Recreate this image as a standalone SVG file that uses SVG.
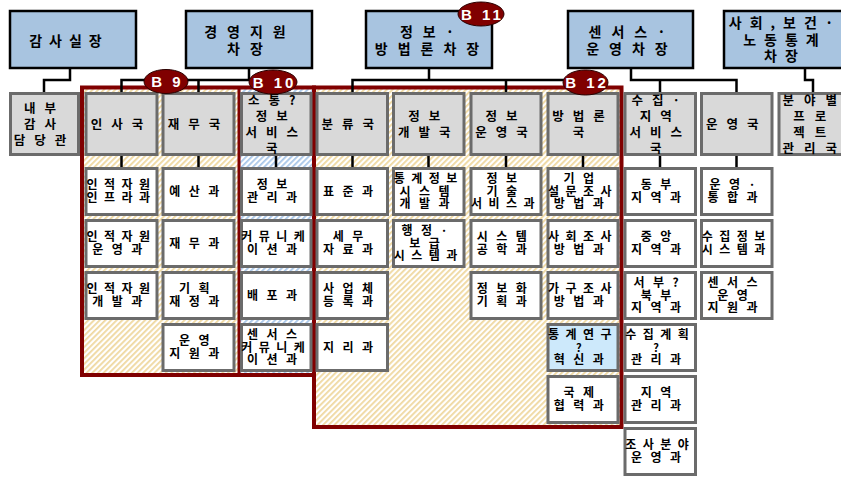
<svg xmlns="http://www.w3.org/2000/svg" width="841" height="478" viewBox="0 0 841 478">
<defs>
<pattern id="tan" width="4" height="4" patternUnits="userSpaceOnUse" patternTransform="rotate(45)">
<rect width="4" height="4" fill="#ffffff"/><rect width="1.8" height="4" fill="#efd8a0"/>
</pattern>
<pattern id="blu" width="4" height="4" patternUnits="userSpaceOnUse" patternTransform="rotate(45)">
<rect width="4" height="4" fill="#ffffff"/><rect width="1.8" height="4" fill="#a9c7e9"/>
</pattern>
<style>
.top{fill:#a8c4e0;stroke:#000;stroke-width:2.5}
.g{fill:#d9d9d9;stroke:#6b6b6b;stroke-width:3}
.w{fill:#ffffff;stroke:#6b6b6b;stroke-width:3}
.lb{fill:#cde9fb}
.t{font-family:"Noto Sans CJK KR","Noto Sans",sans-serif;font-weight:bold;text-anchor:middle;fill:#000}
.tt{font-size:14px;letter-spacing:9px}
.gt{font-size:12.5px;letter-spacing:9px}
.gp{font-size:12.5px}
.wt{font-size:12px;letter-spacing:8.5px}
.n4{letter-spacing:6.5px}
.frame{fill:none;stroke:#800000;stroke-width:4}
.div{stroke:#800000;stroke-width:3}
.conn path{fill:none;stroke:#000;stroke-width:2.5}
.badge ellipse{fill:#800000;stroke:#2a0000;stroke-width:1}
.badge text{font-family:"Liberation Sans",Arial,sans-serif;font-weight:bold;font-size:15px;fill:#fff;text-anchor:middle;letter-spacing:3px}
</style>
</defs>
<rect width="841" height="478" fill="#ffffff"/>

<g id="hatch">
<rect x="82" y="87.5" width="157" height="287.5" fill="url(#tan)"/>
<rect x="239" y="87.5" width="75" height="287.5" fill="url(#blu)"/>
<rect x="314" y="87.5" width="307.5" height="339.5" fill="url(#tan)"/>
</g>
<g id="frames">
<line class="div" x1="239" y1="87.5" x2="239" y2="375"/>
<rect class="frame" x="82" y="87.5" width="232" height="287.5"/>
<rect class="frame" x="314" y="87.5" width="307.5" height="339.5"/>
</g>

<g id="connectors" class="conn">
<path d="M70,68 V80 H44 V92"/>
<path d="M249,68 V80 M121.5,92 V80 H276 V92 M198.5,80 V92"/>
<path d="M429,68 V80 M352.5,92 V80 H583 V92 M506,80 V92"/>
<path d="M631,68 V80 H736.5 V92 M660,80 V92"/>
<path d="M805,68 V80 H813 V92"/>
<path d="M121.5,156 V167 M198.5,156 V167 M276,156 V167 M352.5,156 V167 M428.5,156 V167 M506,156 V167 M583,156 V167 M660,156 V167 M736.5,156 V167"/>
</g>

<g id="n-gamsa"><rect class="top" x="10" y="11" width="126" height="57"/><text class="t tt" style="letter-spacing:7px" x="69" y="46">감사실장</text></g>
<g id="n-gyeongyeong"><rect class="top" x="186" y="11" width="126" height="57"/><text class="t tt" style="letter-spacing:10px"><tspan x="250" y="37">경영지원</tspan><tspan x="250" y="54">차장</tspan></text></g>
<g id="n-jeongbo"><rect class="top" x="366" y="11" width="126" height="57"/><text class="t tt" style="letter-spacing:10px"><tspan x="432" y="37">정보·</tspan><tspan x="432" y="54">방법론차장</tspan></text></g>
<g id="n-census"><rect class="top" x="568" y="11" width="125" height="57"/><text class="t tt" style="letter-spacing:10px"><tspan x="632" y="37">센서스·</tspan><tspan x="632" y="54">운영차장</tspan></text></g>
<g id="n-sahoe"><rect class="top" x="724" y="11" width="125" height="57"/><text class="t tt" style="letter-spacing:8px"><tspan x="785" y="28">사회,보건·</tspan><tspan x="785" y="45">노동통계</tspan><tspan x="785" y="61">차장</tspan></text></g>

<g id="n-naebu"><rect class="g" x="10.5" y="93.5" width="68" height="61"/><text class="t gt"><tspan x="44.5" y="113">내부</tspan><tspan x="44.5" y="129">감사</tspan><tspan x="44.5" y="145">담당관</tspan></text></g>
<g id="n-insa"><rect class="g" x="86" y="93.5" width="71" height="61"/><text class="t gt" x="121.5" y="129">인사국</text></g>
<g id="n-jaemu"><rect class="g" x="163" y="93.5" width="71" height="61"/><text class="t gt" x="198.5" y="129">재무국</text></g>
<g id="n-sotong"><rect class="g" x="241.5" y="93.5" width="69.5" height="61"/><text class="t gt"><tspan x="276.25" y="105">소통?</tspan><tspan x="276.25" y="121">정보</tspan><tspan x="276.25" y="137">서비스</tspan><tspan x="276.25" y="153">국</tspan></text></g>
<g id="n-bunryu"><rect class="g" x="317" y="93.5" width="70.5" height="61"/><text class="t gt" x="352.25" y="129">분류국</text></g>
<g id="n-jbgaebal"><rect class="g" x="393.5" y="93.5" width="70.5" height="61"/><text class="t gt"><tspan x="428.75" y="121">정보</tspan><tspan x="428.75" y="137">개발국</tspan></text></g>
<g id="n-jbunyeong"><rect class="g" x="471" y="93.5" width="70" height="61"/><text class="t gt"><tspan x="506" y="121">정보</tspan><tspan x="506" y="137">운영국</tspan></text></g>
<g id="n-bangbeop"><rect class="g" x="548" y="93.5" width="70" height="61"/><text class="t gt"><tspan x="583" y="121">방법론</tspan><tspan x="583" y="137">국</tspan></text></g>
<g id="n-sujip"><rect class="g" x="625" y="93.5" width="70.5" height="61"/><text class="t gt"><tspan x="660.25" y="105">수집·</tspan><tspan x="660.25" y="121">지역</tspan><tspan x="660.25" y="137">서비스</tspan><tspan x="660.25" y="153">국</tspan></text></g>
<g id="n-unyeong"><rect class="g" x="701.5" y="93.5" width="70.5" height="61"/><text class="t gt" x="736.75" y="129">운영국</text></g>
<g id="n-bunya"><rect class="g" x="779" y="93.5" width="64" height="61"/><text class="t gp"><tspan x="788.25 809.75 831.25" y="105">분야별</tspan><tspan x="799 820.5" y="121">프로</tspan><tspan x="799 820.5" y="137">젝트</tspan><tspan x="788.25 809.75 831.25" y="153">관리국</tspan></text></g>

<g id="n-insa1"><rect class="w" x="86" y="168.5" width="71" height="46"/><text class="t wt n4"><tspan x="121.5" y="188.5">인적자원</tspan><tspan x="121.5" y="201.5">인프라과</tspan></text></g>
<g id="n-insa2"><rect class="w" x="86" y="220.5" width="71" height="46"/><text class="t wt"><tspan class="n4" x="121.5" y="240.5">인적자원</tspan><tspan x="121.5" y="253.5">운영과</tspan></text></g>
<g id="n-insa3"><rect class="w" x="86" y="272.5" width="71" height="46"/><text class="t wt"><tspan class="n4" x="121.5" y="292.5">인적자원</tspan><tspan x="121.5" y="305.5">개발과</tspan></text></g>

<g id="n-jaemu1"><rect class="w" x="163" y="168.5" width="71" height="46"/><text class="t wt" x="198.5" y="195.5">예산과</text></g>
<g id="n-jaemu2"><rect class="w" x="163" y="220.5" width="71" height="46"/><text class="t wt" x="198.5" y="247.5">재무과</text></g>
<g id="n-jaemu3"><rect class="w" x="163" y="272.5" width="71" height="46"/><text class="t wt"><tspan x="198.5" y="292.5">기획</tspan><tspan x="198.5" y="305.5">재정과</tspan></text></g>
<g id="n-jaemu4"><rect class="w" x="163" y="324.5" width="71" height="46"/><text class="t wt"><tspan x="198.5" y="344.5">운영</tspan><tspan x="198.5" y="357.5">지원과</tspan></text></g>

<g id="n-sotong1"><rect class="w" x="241.5" y="168.5" width="69.5" height="46"/><text class="t wt"><tspan x="276.25" y="188.5">정보</tspan><tspan x="276.25" y="201.5">관리과</tspan></text></g>
<g id="n-sotong2"><rect class="w" x="241.5" y="220.5" width="69.5" height="46"/><text class="t wt"><tspan class="n4" x="276.25" y="240.5">커뮤니케</tspan><tspan x="276.25" y="253.5">이션과</tspan></text></g>
<g id="n-sotong3"><rect class="w" x="241.5" y="272.5" width="69.5" height="46"/><text class="t wt" x="276.25" y="299.5">배포과</text></g>
<g id="n-sotong4"><rect class="w" x="241.5" y="324.5" width="69.5" height="46"/><text class="t wt"><tspan x="276.25" y="339">센서스</tspan><tspan class="n4" x="276.25" y="351.5">커뮤니케</tspan><tspan x="276.25" y="364">이션과</tspan></text></g>

<g id="n-bunryu1"><rect class="w" x="317" y="168.5" width="70.5" height="46"/><text class="t wt" x="352.25" y="195.5">표준과</text></g>
<g id="n-bunryu2"><rect class="w" x="317" y="220.5" width="70.5" height="46"/><text class="t wt"><tspan x="352.25" y="240.5">세무</tspan><tspan x="352.25" y="253.5">자료과</tspan></text></g>
<g id="n-bunryu3"><rect class="w" x="317" y="272.5" width="70.5" height="46"/><text class="t wt"><tspan x="352.25" y="292.5">사업체</tspan><tspan x="352.25" y="305.5">등록과</tspan></text></g>
<g id="n-bunryu4"><rect class="w" x="317" y="324.5" width="70.5" height="46"/><text class="t wt" x="352.25" y="351.5">지리과</text></g>

<g id="n-gaebal1"><rect class="w" x="393.5" y="168.5" width="70.5" height="46"/><text class="t wt"><tspan class="n4" x="428.75" y="183">통계정보</tspan><tspan x="428.75" y="195.5">시스템</tspan><tspan x="428.75" y="208">개발과</tspan></text></g>
<g id="n-gaebal2"><rect class="w" x="393.5" y="220.5" width="70.5" height="46"/><text class="t wt"><tspan x="428.75" y="235">행정·</tspan><tspan x="428.75" y="247.5">보급</tspan><tspan class="n4" x="428.75" y="260">시스템과</tspan></text></g>

<g id="n-unyeong1"><rect class="w" x="471" y="168.5" width="70" height="46"/><text class="t wt"><tspan x="506" y="183">정보</tspan><tspan x="506" y="195.5">기술</tspan><tspan class="n4" x="506" y="208">서비스과</tspan></text></g>
<g id="n-unyeong2"><rect class="w" x="471" y="220.5" width="70" height="46"/><text class="t wt"><tspan x="506" y="240.5">시스템</tspan><tspan x="506" y="253.5">공학과</tspan></text></g>
<g id="n-unyeong3"><rect class="w" x="471" y="272.5" width="70" height="46"/><text class="t wt"><tspan x="506" y="292.5">정보화</tspan><tspan x="506" y="305.5">기획과</tspan></text></g>

<g id="n-bb1"><rect class="w" x="548" y="168.5" width="70" height="46"/><text class="t wt"><tspan x="583" y="183">기업</tspan><tspan class="n4" x="583" y="195.5">설문조사</tspan><tspan x="583" y="208">방법과</tspan></text></g>
<g id="n-bb2"><rect class="w" x="548" y="220.5" width="70" height="46"/><text class="t wt"><tspan class="n4" x="583" y="240.5">사회조사</tspan><tspan x="583" y="253.5">방법과</tspan></text></g>
<g id="n-bb3"><rect class="w" x="548" y="272.5" width="70" height="46"/><text class="t wt"><tspan class="n4" x="583" y="292.5">가구조사</tspan><tspan x="583" y="305.5">방법과</tspan></text></g>
<g id="n-bb4"><rect class="w lb" x="548" y="324.5" width="70" height="46"/><text class="t wt"><tspan class="n4" x="583" y="339">통계연구</tspan><tspan x="583" y="351.5" style="font-size:11px">?</tspan><tspan x="583" y="364">혁신과</tspan></text></g>
<g id="n-bb5"><rect class="w" x="548" y="376.5" width="70" height="46"/><text class="t wt"><tspan x="583" y="396.5">국제</tspan><tspan x="583" y="409.5">협력과</tspan></text></g>

<g id="n-sj1"><rect class="w" x="625" y="168.5" width="70.5" height="46"/><text class="t wt"><tspan x="660.25" y="188.5">동부</tspan><tspan x="660.25" y="201.5">지역과</tspan></text></g>
<g id="n-sj2"><rect class="w" x="625" y="220.5" width="70.5" height="46"/><text class="t wt"><tspan x="660.25" y="240.5">중앙</tspan><tspan x="660.25" y="253.5">지역과</tspan></text></g>
<g id="n-sj3"><rect class="w" x="625" y="272.5" width="70.5" height="46"/><text class="t wt"><tspan x="660.25" y="287">서부?</tspan><tspan x="660.25" y="299.5">북부</tspan><tspan x="660.25" y="312">지역과</tspan></text></g>
<g id="n-sj4"><rect class="w" x="625" y="324.5" width="70.5" height="46"/><text class="t wt"><tspan class="n4" x="660.25" y="339">수집계획</tspan><tspan x="660.25" y="351.5" style="font-size:11px">?</tspan><tspan x="660.25" y="364">관리과</tspan></text></g>
<g id="n-sj5"><rect class="w" x="625" y="376.5" width="70.5" height="46"/><text class="t wt"><tspan x="660.25" y="396.5">지역</tspan><tspan x="660.25" y="409.5">관리과</tspan></text></g>
<g id="n-sj6"><rect class="w" x="625" y="428.5" width="70.5" height="46"/><text class="t wt"><tspan class="n4" x="660.25" y="448.5">조사분야</tspan><tspan x="660.25" y="461.5">운영과</tspan></text></g>

<g id="n-uy1"><rect class="w" x="701.5" y="168.5" width="70.5" height="46"/><text class="t wt"><tspan x="736.75" y="188.5">운영·</tspan><tspan x="736.75" y="201.5">통합과</tspan></text></g>
<g id="n-uy2"><rect class="w" x="701.5" y="220.5" width="70.5" height="46"/><text class="t wt n4"><tspan x="736.75" y="240.5">수집정보</tspan><tspan x="736.75" y="253.5">시스템과</tspan></text></g>
<g id="n-uy3"><rect class="w" x="701.5" y="272.5" width="70.5" height="46"/><text class="t wt"><tspan x="736.75" y="287">센서스</tspan><tspan x="736.75" y="299.5">운영</tspan><tspan x="736.75" y="312">지원과</tspan></text></g>

<g id="badges" class="badge">
<g id="b9"><ellipse cx="166" cy="81.5" rx="22" ry="12"/><text x="167.5" y="87">B 9</text></g>
<g id="b10"><ellipse cx="273" cy="82" rx="24" ry="12"/><text x="274.5" y="87.5">B 10</text></g>
<g id="b11"><ellipse cx="481" cy="14" rx="23" ry="12"/><text x="482.5" y="19.5">B 11</text></g>
<g id="b12"><ellipse cx="585.5" cy="82.5" rx="22.5" ry="12.5"/><text x="587" y="88">B 12</text></g>
</g>
</svg>
